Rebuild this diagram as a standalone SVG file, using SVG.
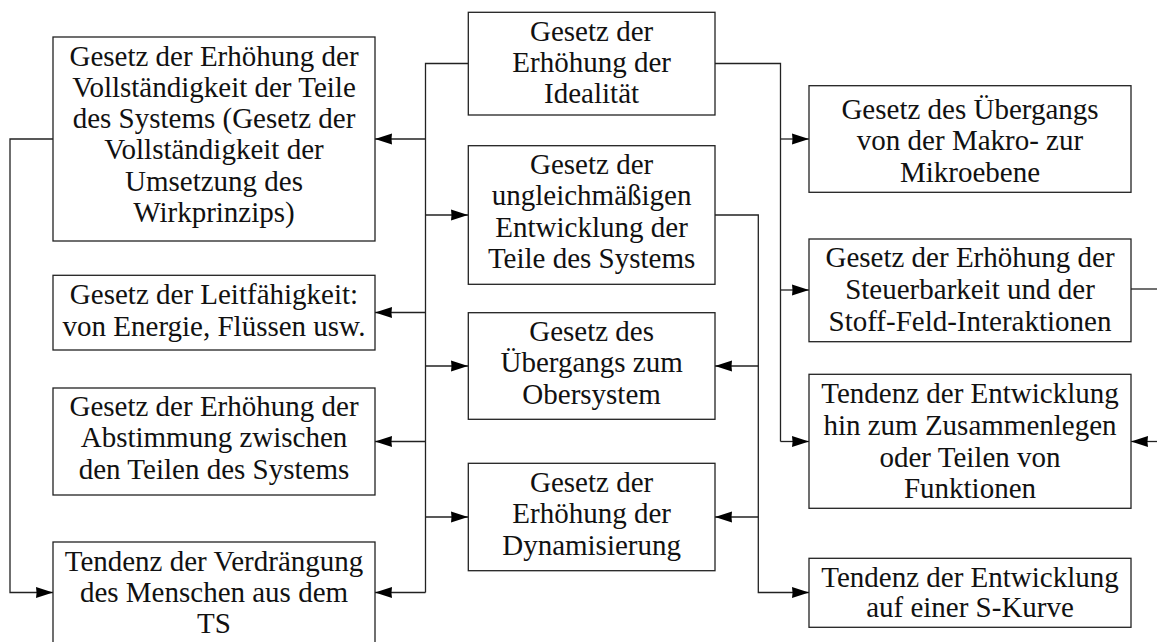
<svg xmlns="http://www.w3.org/2000/svg" width="1157" height="642" viewBox="0 0 1157 642">
<style>
.box{fill:#fff;stroke:#222;stroke-width:1.3}
.t{font-family:"Liberation Serif","Times New Roman",serif;font-size:29px;fill:#111;text-anchor:middle}
.c{fill:none;stroke:#222;stroke-width:1.3}
</style>
<defs>
<marker id="ah" markerUnits="userSpaceOnUse" markerWidth="20" markerHeight="14" refX="17" refY="6" orient="auto" overflow="visible">
<path d="M0,0.5 Q1,6 0,11.5 L17,6 Z" fill="#000"/>
</marker>
</defs>
<rect width="1157" height="642" fill="#fff"/>
<g id="connectors">
<path class="c" d="M468,63.5 H425.5 V592.5"/>
<path class="c" d="M425.5,139 H375" marker-end="url(#ah)"/>
<path class="c" d="M425.5,312.5 H375" marker-end="url(#ah)"/>
<path class="c" d="M425.5,441.5 H375" marker-end="url(#ah)"/>
<path class="c" d="M425.5,592.5 H375" marker-end="url(#ah)"/>
<path class="c" d="M425.5,215 H468" marker-end="url(#ah)"/>
<path class="c" d="M425.5,366 H468" marker-end="url(#ah)"/>
<path class="c" d="M425.5,517 H468" marker-end="url(#ah)"/>
<path class="c" d="M53,139 H10 V592.5 H53" marker-end="url(#ah)"/>
<path class="c" d="M715,63.5 H780.5 V441.5"/>
<path class="c" d="M780.5,139 H809" marker-end="url(#ah)"/>
<path class="c" d="M780.5,290 H809" marker-end="url(#ah)"/>
<path class="c" d="M780.5,441.5 H809" marker-end="url(#ah)"/>
<path class="c" d="M715,215 H758.3 V592.5 H809" marker-end="url(#ah)"/>
<path class="c" d="M758.3,366 H715" marker-end="url(#ah)"/>
<path class="c" d="M758.3,517 H715" marker-end="url(#ah)"/>
<path class="c" d="M1131,289 H1160"/>
<path class="c" d="M1160,441.5 H1131" marker-end="url(#ah)"/>
</g>
<g id="n-vollstaendigkeit">
<rect class="box" x="53" y="37" width="322" height="204"/>
<text class="t" x="214" y="65.7">Gesetz der Erhöhung der</text>
<text class="t" x="214" y="96.9">Vollständigkeit der Teile</text>
<text class="t" x="214" y="128.1">des Systems (Gesetz der</text>
<text class="t" x="214" y="159.3">Vollständigkeit der</text>
<text class="t" x="214" y="190.5">Umsetzung des</text>
<text class="t" x="214" y="221.7">Wirkprinzips)</text>
</g>
<g id="n-leitfaehigkeit">
<rect class="box" x="53" y="275.3" width="322" height="74.7"/>
<text class="t" x="214" y="304">Gesetz der Leitfähigkeit:</text>
<text class="t" x="214" y="335.5">von Energie, Flüssen usw.</text>
</g>
<g id="n-abstimmung">
<rect class="box" x="53" y="388" width="322" height="107"/>
<text class="t" x="214" y="415.7">Gesetz der Erhöhung der</text>
<text class="t" x="214" y="447.3">Abstimmung zwischen</text>
<text class="t" x="214" y="479">den Teilen des Systems</text>
</g>
<g id="n-verdraengung">
<rect class="box" x="53" y="542" width="322" height="110"/>
<text class="t" x="214" y="570.7">Tendenz der Verdrängung</text>
<text class="t" x="214" y="601.9">des Menschen aus dem</text>
<text class="t" x="214" y="633">TS</text>
</g>
<g id="n-idealitaet">
<rect class="box" x="468.3" y="12.3" width="246.7" height="102.7"/>
<text class="t" x="591.6" y="41">Gesetz der</text>
<text class="t" x="591.6" y="72">Erhöhung der</text>
<text class="t" x="591.6" y="103">Idealität</text>
</g>
<g id="n-ungleichmaessig">
<rect class="box" x="468.3" y="145.7" width="246.7" height="138.6"/>
<text class="t" x="591.6" y="174">Gesetz der</text>
<text class="t" x="591.6" y="205.3">ungleichmäßigen</text>
<text class="t" x="591.6" y="236.6">Entwicklung der</text>
<text class="t" x="591.6" y="268">Teile des Systems</text>
</g>
<g id="n-obersystem">
<rect class="box" x="468.3" y="312.7" width="246.7" height="106.6"/>
<text class="t" x="591.6" y="340.7">Gesetz des</text>
<text class="t" x="591.6" y="372.3">Übergangs zum</text>
<text class="t" x="591.6" y="404">Obersystem</text>
</g>
<g id="n-dynamisierung">
<rect class="box" x="468.3" y="463.3" width="246.7" height="107.4"/>
<text class="t" x="591.6" y="491.7">Gesetz der</text>
<text class="t" x="591.6" y="523.3">Erhöhung der</text>
<text class="t" x="591.6" y="555">Dynamisierung</text>
</g>
<g id="n-makro">
<rect class="box" x="809" y="85.7" width="322" height="106.6"/>
<text class="t" x="970" y="119">Gesetz des Übergangs</text>
<text class="t" x="970" y="150.3">von der Makro- zur</text>
<text class="t" x="970" y="181.7">Mikroebene</text>
</g>
<g id="n-steuerbarkeit">
<rect class="box" x="809" y="239" width="322" height="102.7"/>
<text class="t" x="970" y="267.3">Gesetz der Erhöhung der</text>
<text class="t" x="970" y="299">Steuerbarkeit und der</text>
<text class="t" x="970" y="330.7">Stoff-Feld-Interaktionen</text>
</g>
<g id="n-zusammenlegen">
<rect class="box" x="809" y="374.3" width="322" height="134"/>
<text class="t" x="970" y="403.3">Tendenz der Entwicklung</text>
<text class="t" x="970" y="435">hin zum Zusammenlegen</text>
<text class="t" x="970" y="466.7">oder Teilen von</text>
<text class="t" x="970" y="498.3">Funktionen</text>
</g>
<g id="n-skurve">
<rect class="box" x="809" y="558.3" width="322" height="69"/>
<text class="t" x="970" y="586.7">Tendenz der Entwicklung</text>
<text class="t" x="970" y="617.3">auf einer S-Kurve</text>
</g>
</svg>
